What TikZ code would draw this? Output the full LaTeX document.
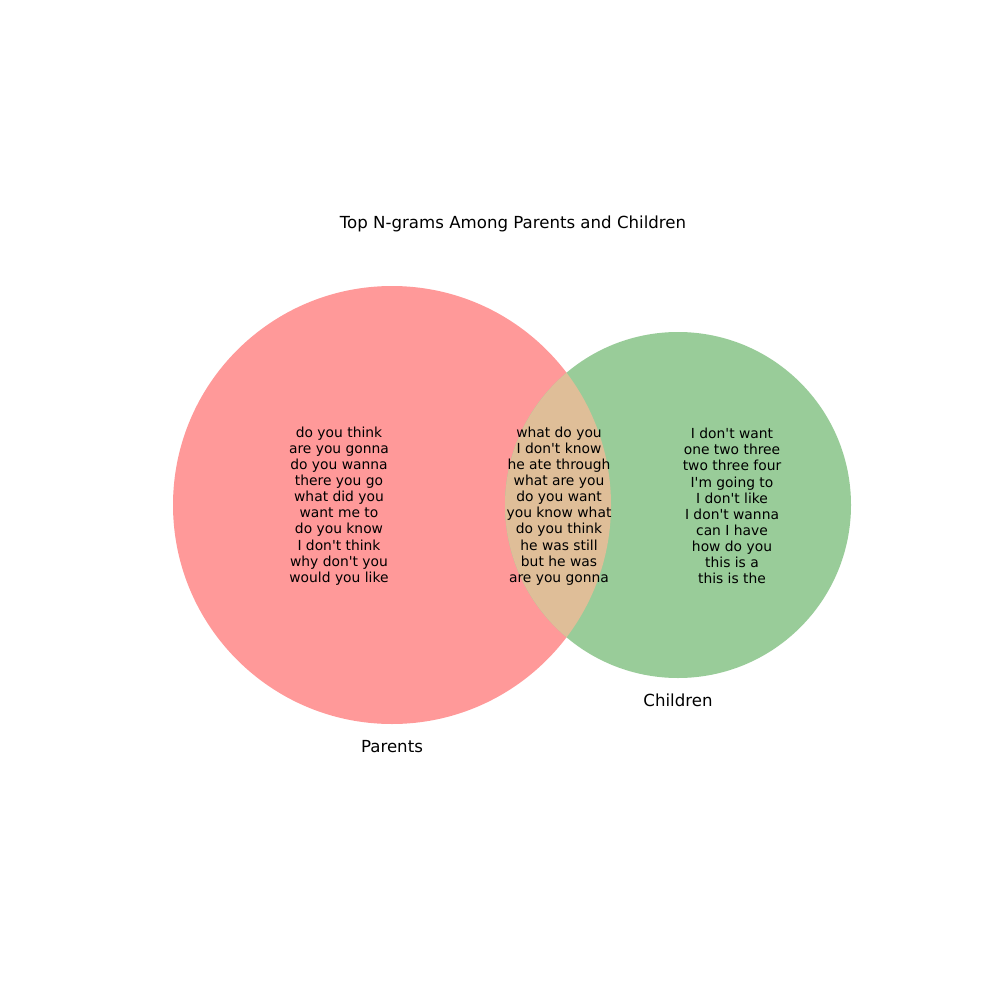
\documentclass[tikz,border=0pt]{standalone}
\usepackage{fontspec}
\setmainfont{DejaVu Sans}[Ligatures=TeXOff]
\definecolor{parentc}{RGB}{255,153,153}
\definecolor{childc}{RGB}{153,204,153}
\definecolor{bothc}{RGB}{223,190,152}
\begin{document}
\begin{tikzpicture}[x=0.01in,y=-0.01in,
  setlabel/.style={font=\fontsize{12}{14}\selectfont,inner sep=0pt,anchor=center},
  ngrams/.style={font=\fontsize{10}{11.63}\selectfont,align=center,inner sep=0pt,anchor=center}]
\useasboundingbox (0,0) rectangle (1000,1000);
\fill[white] (0,0) rectangle (1000,1000);
\fill[parentc] (392,505) circle[radius=219];
\fill[childc] (678,505) circle[radius=173];
\begin{scope}
\clip (392,505) circle[radius=219];
\fill[bothc] (678,505) circle[radius=173];
\end{scope}
\node[setlabel] (title) at (513,224) {Top N-grams Among Parents and Children};
\node[setlabel] (plabel) at (392,747) {Parents};
\node[setlabel] (clabel) at (678,700) {Children};
\node[ngrams] (ponly) at (339,506) {do you think\\are you gonna\\do you wanna\\there you go\\what did you\\want me to\\do you know\\I don't think\\why don't you\\would you like};
\node[ngrams] (both) at (559,506) {what do you\\I don't know\\he ate through\\what are you\\do you want\\you know what\\do you think\\he was still\\but he was\\are you gonna};
\node[ngrams] (conly) at (732,506) {I don't want\\one two three\\two three four\\I'm going to\\I don't like\\I don't wanna\\can I have\\how do you\\this is a\\this is the};
\end{tikzpicture}
\end{document}
